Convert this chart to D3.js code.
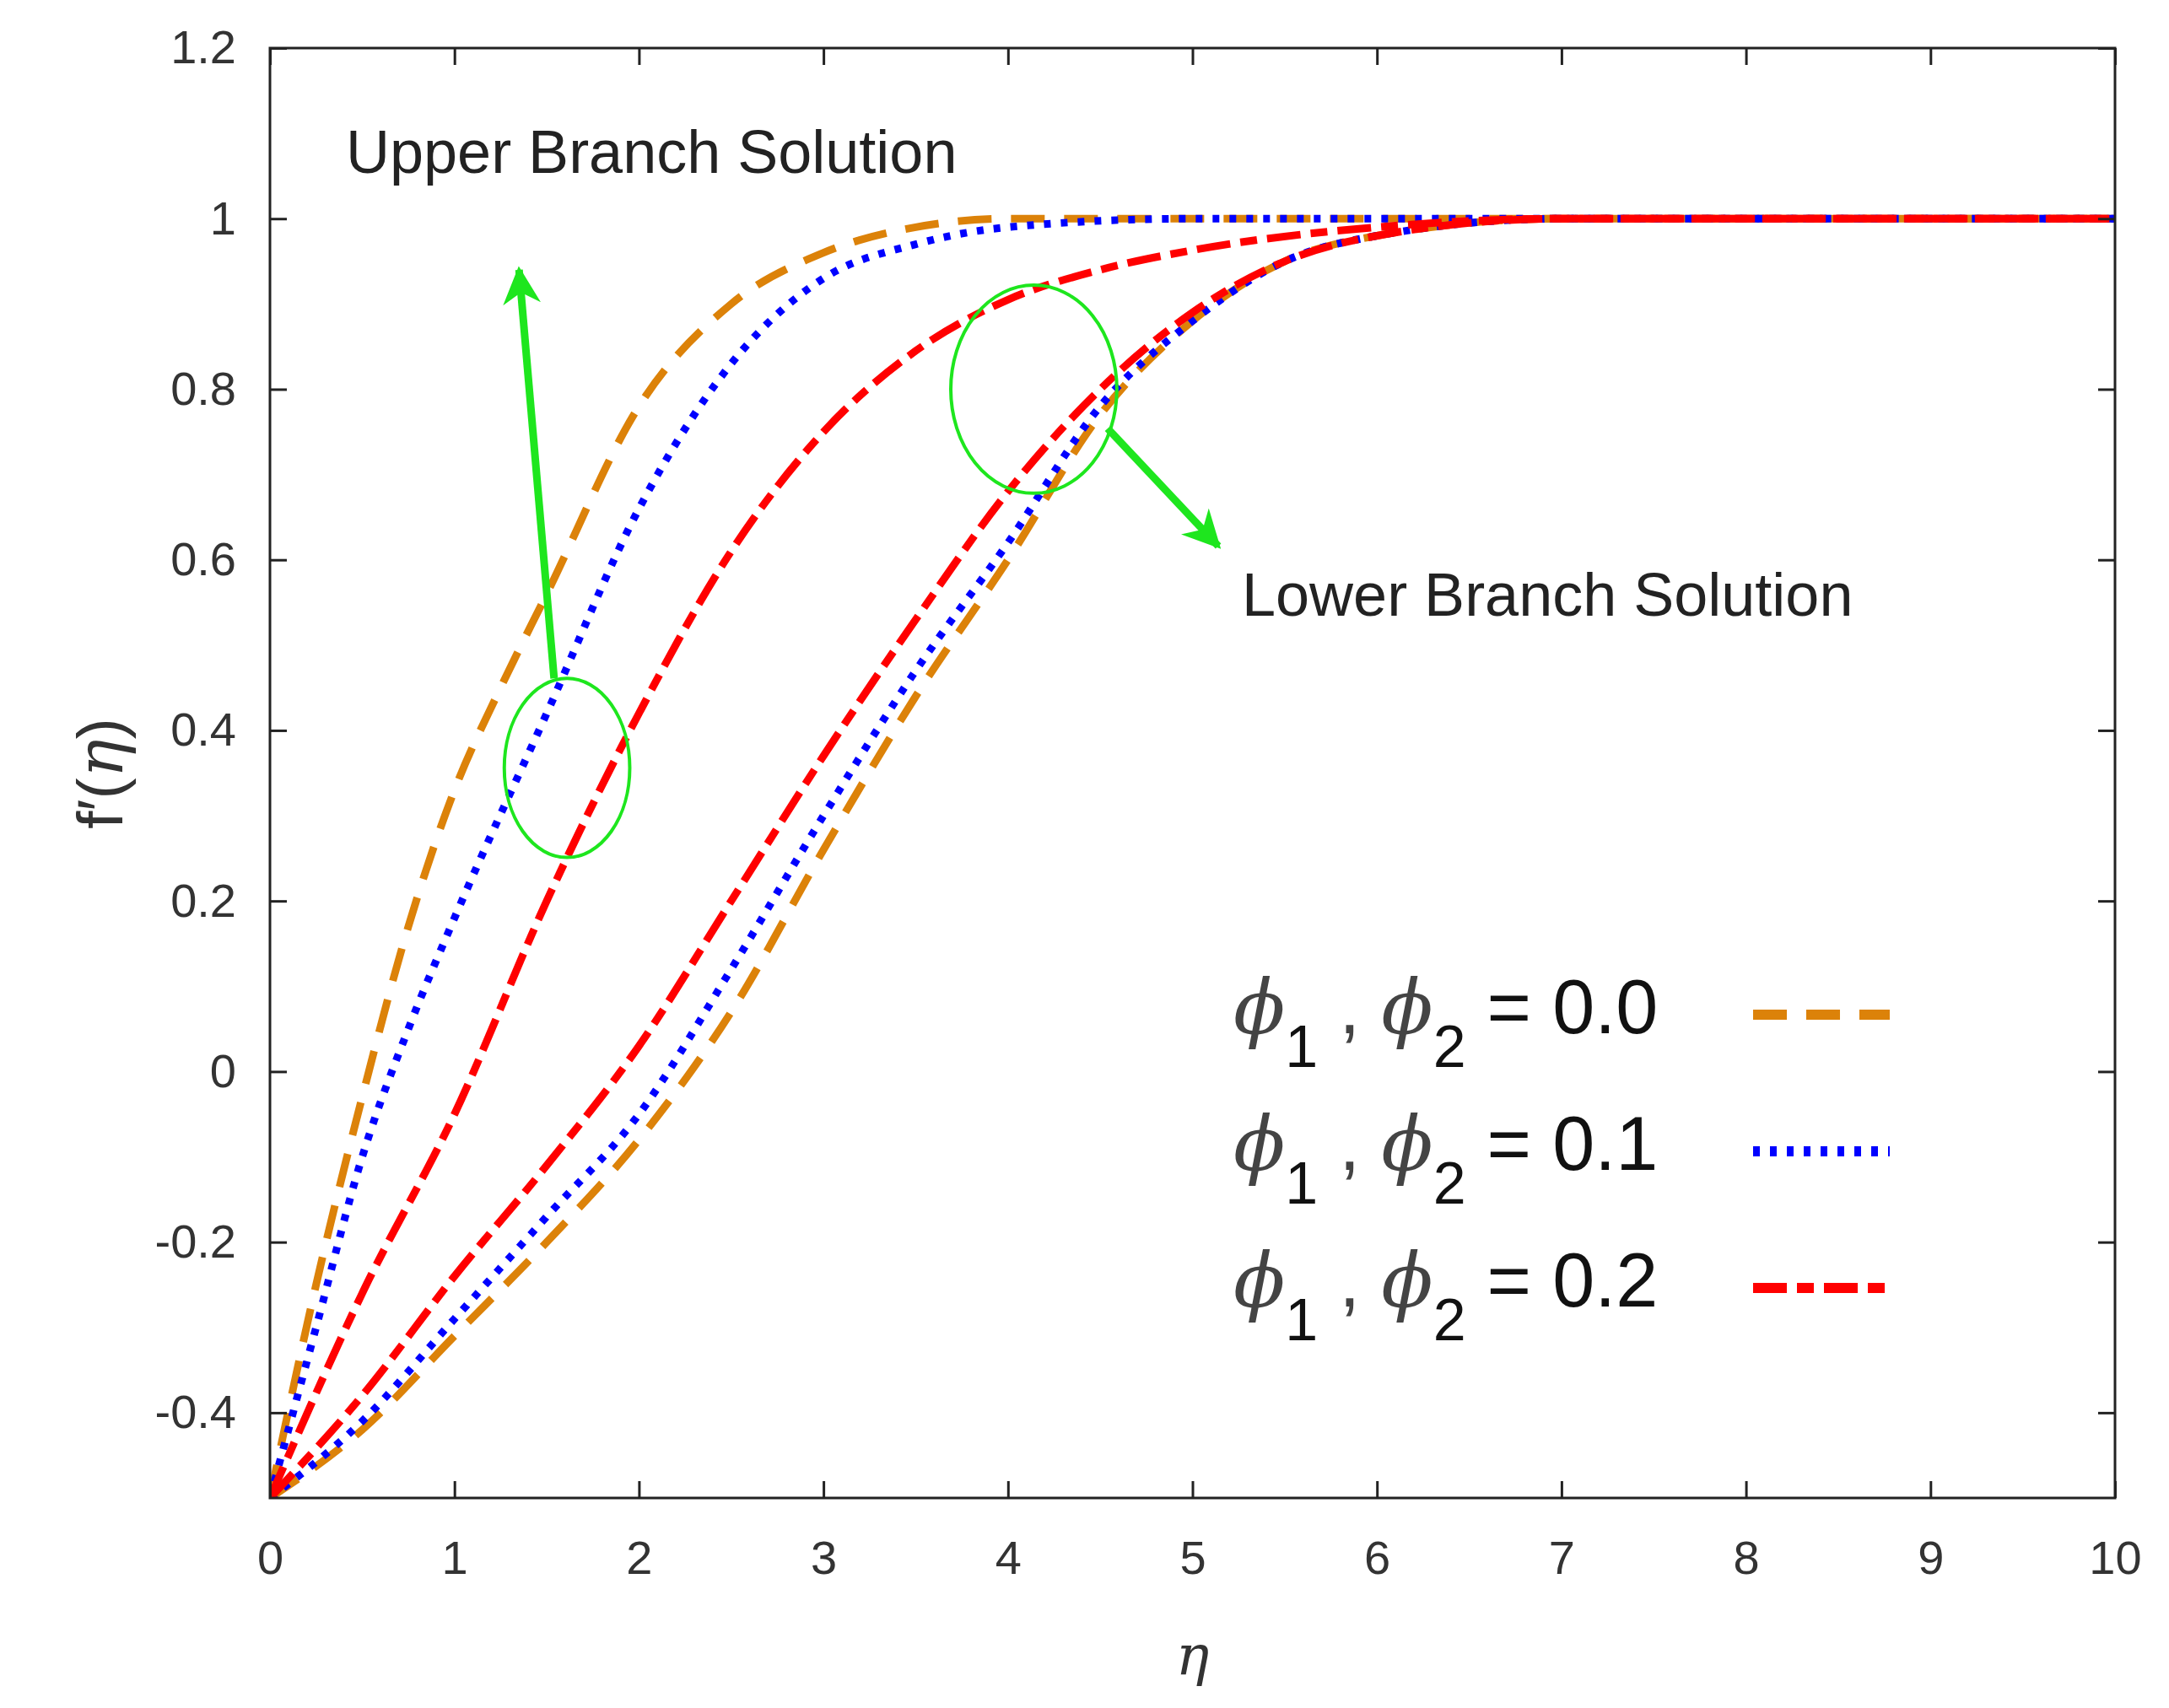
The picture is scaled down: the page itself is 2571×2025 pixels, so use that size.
<!DOCTYPE html>
<html><head><meta charset="utf-8">
<script src="https://cdn.jsdelivr.net/npm/d3@7"></script>
<style>body{margin:0;background:#fff}</style></head>
<body><svg id="c" width="2571" height="2025"></svg>
<script>
const xTicks = [0,1,2,3,4,5,6,7,8,9,10];
const yTicks = [-0.4,-0.2,0,0.2,0.4,0.6,0.8,1,1.2];
const yTickLabels = ["-0.4","-0.2","0","0.2","0.4","0.6","0.8","1","1.2"];
const seriesNames = ["0.0","0.1","0.2"];
const upper00 = [[0,-0.5],[0.25,-0.25],[0.5,-0.03],[0.75,0.17],[1,0.33],[1.25,0.45],[1.5,0.56],[2,0.78],[2.5,0.9],[3,0.96],[3.5,0.99],[4,1],[10,1]];
const upper01 = [[0,-0.5],[0.25,-0.3],[0.5,-0.1],[0.75,0.05],[1,0.18],[1.5,0.42],[2,0.66],[2.5,0.83],[3,0.93],[3.5,0.97],[4,0.99],[5,1],[10,1]];
const upper02 = [[0,-0.5],[0.5,-0.26],[1,-0.05],[1.5,0.2],[2,0.42],[2.5,0.61],[3,0.75],[3.5,0.845],[4,0.905],[4.5,0.94],[5,0.963],[6,0.99],[7,1],[10,1]];
const lower00 = [[0,-0.5],[0.5,-0.42],[1,-0.31],[1.5,-0.2],[2,-0.08],[2.5,0.07],[3,0.26],[3.5,0.44],[4,0.6],[4.5,0.77],[5,0.88],[5.5,0.95],[6,0.98],[7,1],[10,1]];
const lower01 = [[0,-0.5],[0.5,-0.41],[1,-0.29],[1.5,-0.17],[2,-0.05],[2.5,0.12],[3,0.3],[3.5,0.47],[4,0.62],[4.5,0.78],[5,0.88],[5.5,0.95],[6,0.98],[7,1],[10,1]];
const lower02 = [[0,-0.5],[0.5,-0.38],[1,-0.24],[1.5,-0.11],[2,0.03],[2.5,0.2],[3,0.37],[3.5,0.53],[4,0.68],[4.5,0.8],[5,0.89],[5.5,0.95],[6,0.98],[7,1],[10,1]];
const colors = ["#DC8209","#0000FF","#FF0000"];
const dashes = ["40,23","8,12","40,12,20,12"];

const L=320,R=2507,T=57,B=1776;
const svg=d3.select("#c");
const x=d3.scaleLinear().domain([0,10]).range([L,R]);
const y=d3.scaleLinear().domain([-0.5,1.2]).range([B,T]);
const font="Liberation Sans, Arial, sans-serif";

const line=d3.line().x(d=>x(d[0])).y(d=>y(d[1])).curve(d3.curveMonotoneX);
svg.append("clipPath").attr("id","cp").append("rect").attr("x",L).attr("y",T).attr("width",R-L).attr("height",B-T);
const g=svg.append("g").attr("clip-path","url(#cp)");
const sets=[[upper00,lower00],[upper01,lower01],[upper02,lower02]];
sets.forEach((s,i)=>s.forEach(d=>g.append("path").attr("d",line(d)).attr("fill","none")
  .attr("stroke",colors[i]).attr("stroke-width",9).attr("stroke-dasharray",dashes[i])));

svg.append("rect").attr("x",L).attr("y",T).attr("width",R-L).attr("height",B-T).attr("fill","none").attr("stroke","#222").attr("stroke-width",3);
const ax=svg.append("g").attr("transform",`translate(0,${B})`).call(d3.axisBottom(x).tickValues(xTicks).tickSize(-20).tickPadding(50));
const axT=svg.append("g").attr("transform",`translate(0,${T})`).call(d3.axisTop(x).tickValues(xTicks).tickSize(-20).tickFormat(""));
const ay=svg.append("g").attr("transform",`translate(${L},0)`).call(d3.axisLeft(y).tickValues(yTicks).tickSize(-20).tickPadding(40).tickFormat((d,i)=>yTickLabels[i]));
const ayR=svg.append("g").attr("transform",`translate(${R},0)`).call(d3.axisRight(y).tickValues(yTicks).tickSize(-20).tickFormat(""));
[ax,axT,ay,ayR].forEach(a=>{a.select(".domain").remove();a.selectAll("line").attr("stroke","#222").attr("stroke-width",3);
  a.selectAll("text").attr("font-family",font).attr("font-size",56).attr("fill","#333");});

svg.append("text").attr("x",(L+R)/2).attr("y",1985).attr("text-anchor","middle").attr("font-family","DejaVu Serif, serif").attr("font-style","italic").attr("font-size",66).attr("fill","#333").text("η");
const yl=svg.append("text").attr("transform","translate(145,917) rotate(-90)").attr("text-anchor","middle").attr("font-family",font).attr("font-size",76).attr("fill","#333");
yl.append("tspan").text("f′(");
yl.append("tspan").attr("font-family","DejaVu Serif, serif").attr("font-style","italic").text("η");
yl.append("tspan").text(")");

svg.append("text").attr("x",410).attr("y",205).attr("font-family",font).attr("font-size",72).attr("fill","#222").text("Upper Branch Solution");
svg.append("text").attr("x",1472).attr("y",730).attr("font-family",font).attr("font-size",72).attr("fill","#222").text("Lower Branch Solution");
const green="#1EE61E";
const ell=[[1.61,0.356,0.34,0.105],[4.14,0.80,0.45,0.122]];
ell.forEach(e=>svg.append("ellipse").attr("cx",x(e[0])).attr("cy",y(e[1])).attr("rx",x(e[2])-x(0)).attr("ry",y(0)-y(e[3]))
  .attr("fill","none").attr("stroke",green).attr("stroke-width",4));
svg.append("defs").append("marker").attr("id","ah").attr("viewBox","0 0 10 10").attr("refX",9).attr("refY",5)
  .attr("markerWidth",5).attr("markerHeight",5).attr("orient","auto").attr("markerUnits","strokeWidth")
  .append("path").attr("d","M0,0 L10,5 L0,10 L3,5 Z").attr("fill",green);
const arrows=[[1.54,0.461,1.35,0.94],[4.54,0.754,5.14,0.616]];
arrows.forEach(a=>svg.append("line").attr("x1",x(a[0])).attr("y1",y(a[1])).attr("x2",x(a[2])).attr("y2",y(a[3]))
  .attr("stroke",green).attr("stroke-width",9).attr("marker-end","url(#ah)"));

seriesNames.forEach((n,i)=>{
  const yy=1225+i*162;
  const t=svg.append("text").attr("x",1462).attr("y",yy).attr("font-family",font).attr("font-size",90).attr("fill","#111");
  t.append("tspan").attr("font-family","DejaVu Serif, serif").attr("font-style","italic").attr("fill","#444").text("ϕ");
  t.append("tspan").attr("dy",40).attr("font-size",70).text("1");
  t.append("tspan").attr("dy",-40).attr("fill","#444").text(" , ");
  t.append("tspan").attr("font-family","DejaVu Serif, serif").attr("font-style","italic").attr("fill","#444").text("ϕ");
  t.append("tspan").attr("dy",40).attr("font-size",70).text("2");
  t.append("tspan").attr("dy",-40).text(" = "+n);
  svg.append("line").attr("x1",2078).attr("x2",2240).attr("y1",yy-22).attr("y2",yy-22)
    .attr("stroke",colors[i]).attr("stroke-width",12).attr("stroke-dasharray",dashes[i]);
});
</script></body></html>
